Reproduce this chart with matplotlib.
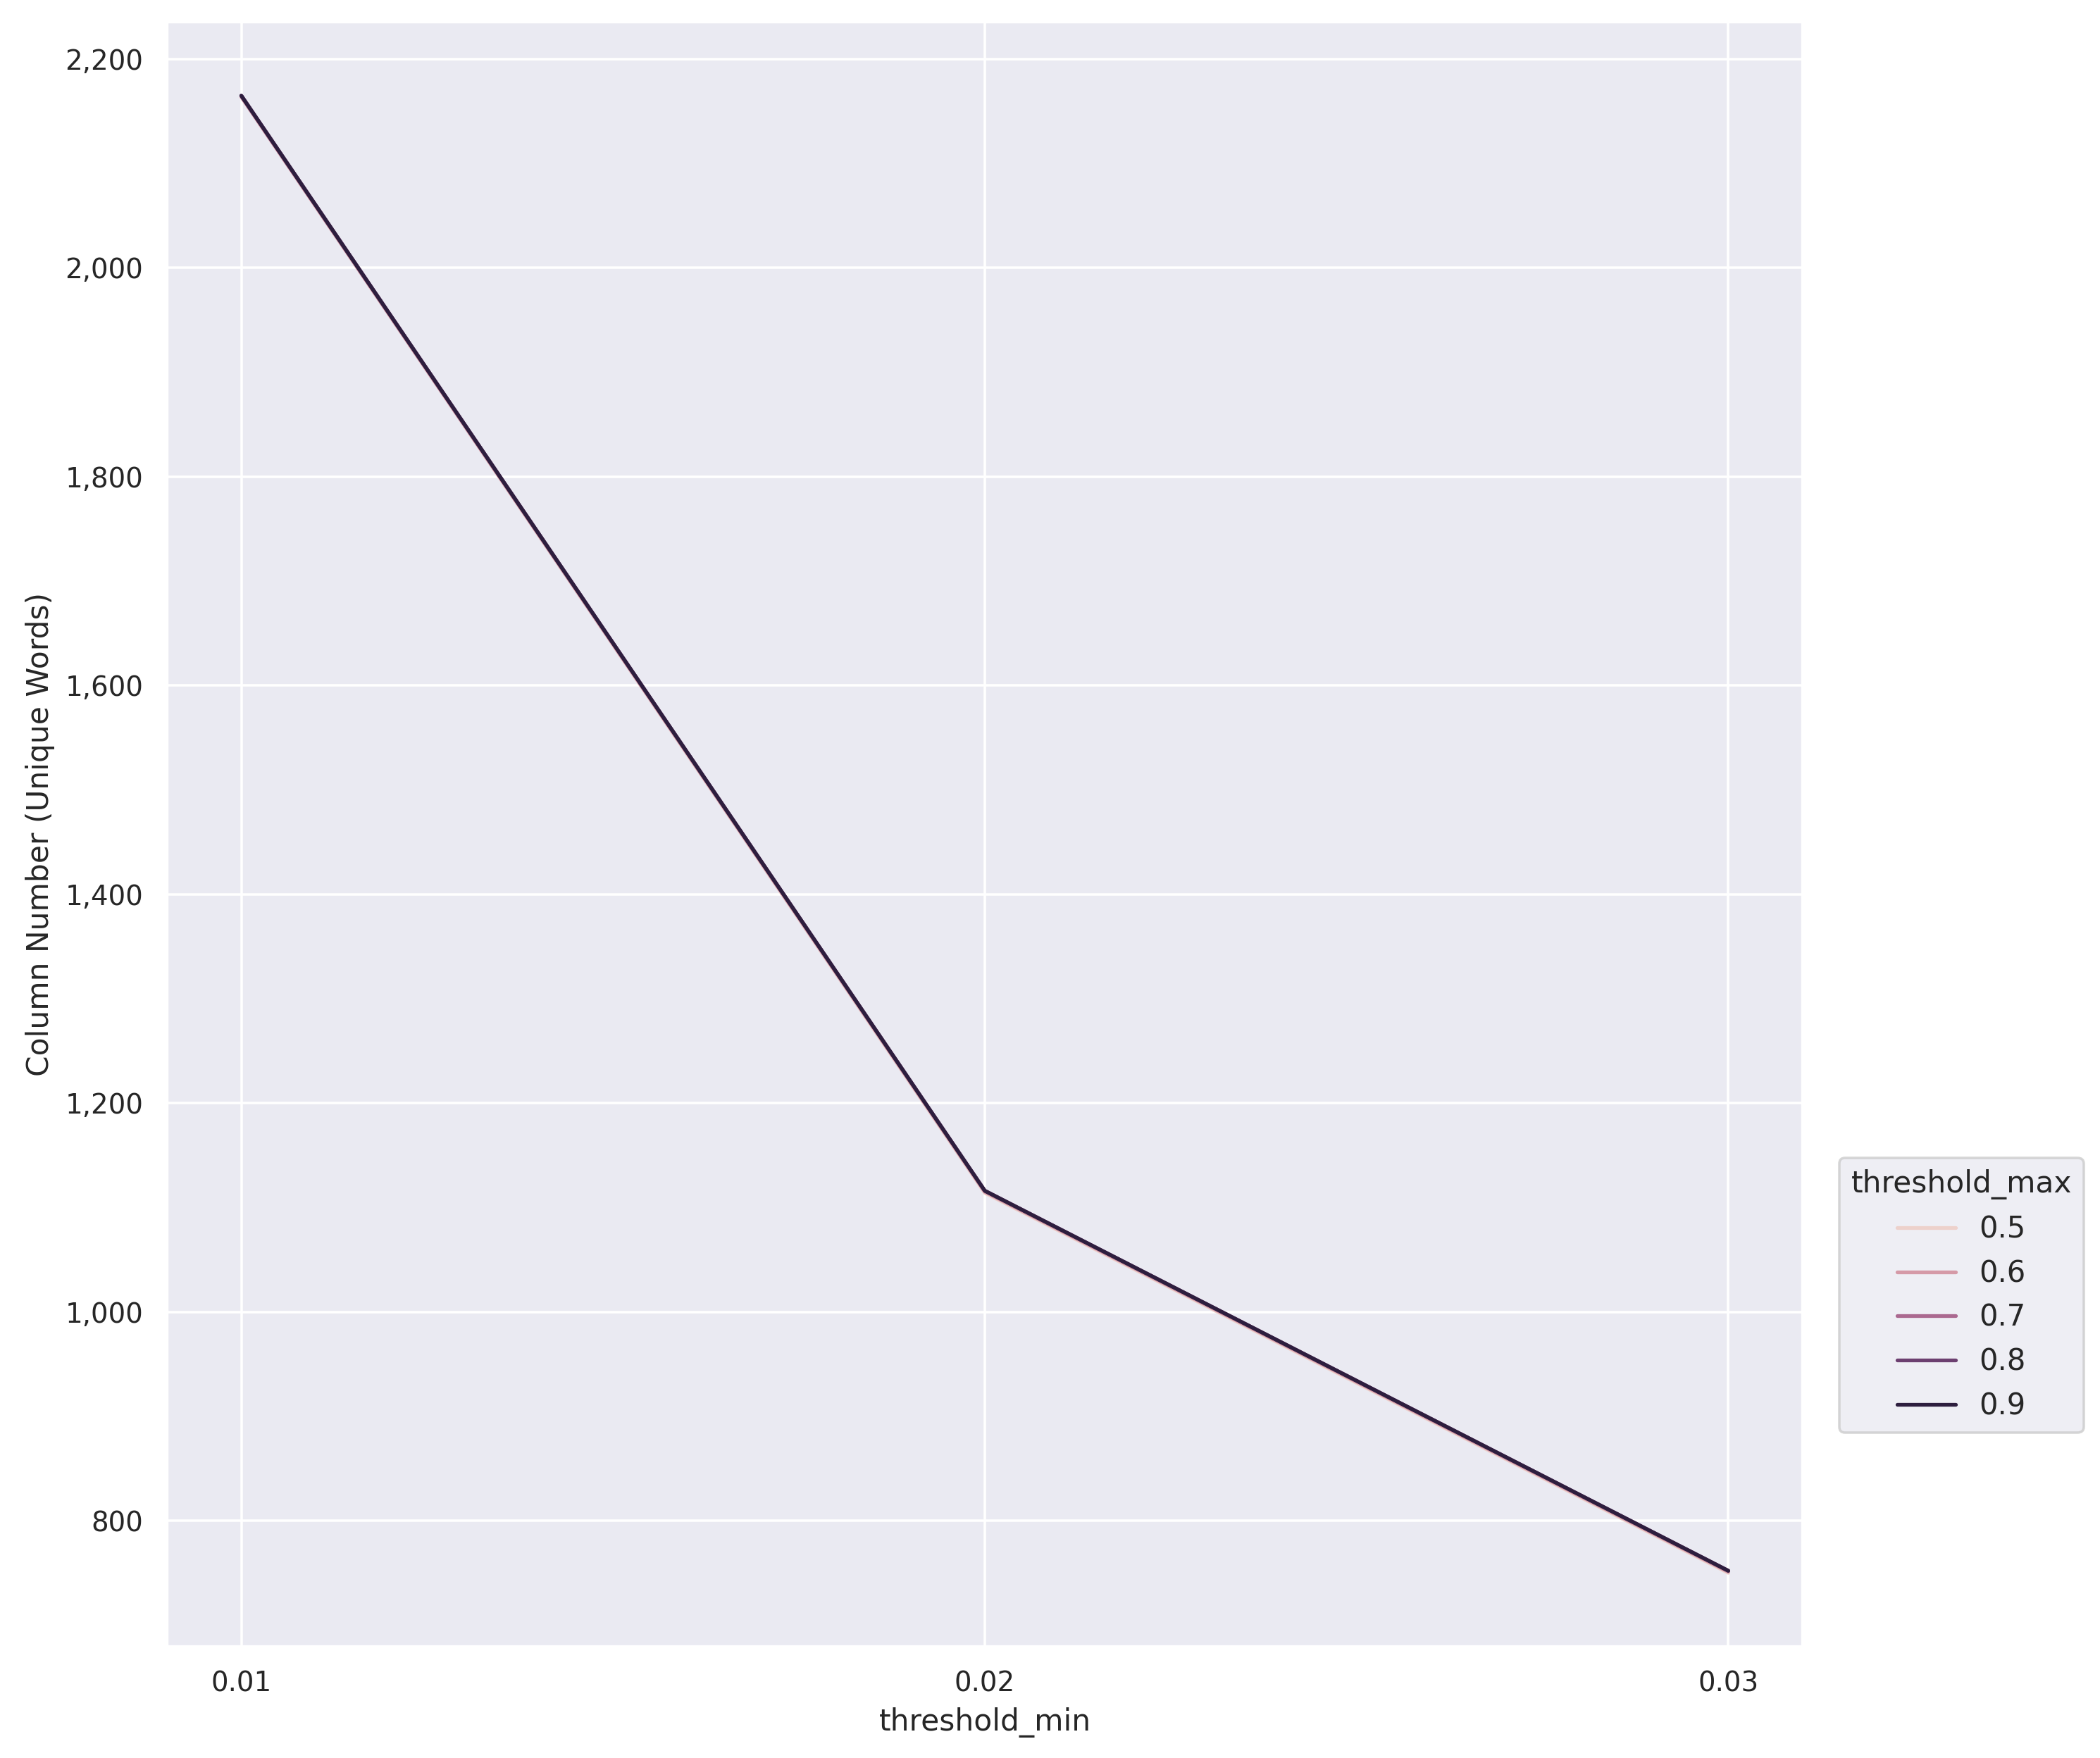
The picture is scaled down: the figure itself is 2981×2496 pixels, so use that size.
import numpy as np
import pandas as pd
import matplotlib
matplotlib.use("Agg")
import matplotlib.pyplot as plt
import seaborn as sns
from matplotlib.ticker import StrMethodFormatter

# 读图估计的数值
threshold_min = [0.01, 0.02, 0.03]
threshold_max = [0.5, 0.6, 0.7, 0.8, 0.9]
cols_05 = [2164, 1114, 750]
cols_06 = [2164, 1115, 751]
cols_07 = [2165, 1116, 752]
cols_08 = [2165, 1116, 752]
cols_09 = [2165, 1116, 752]

rows = []
for tmax, vals in zip(threshold_max, [cols_05, cols_06, cols_07, cols_08, cols_09]):
    for tmin, v in zip(threshold_min, vals):
        rows.append({"threshold_min": tmin, "threshold_max": tmax, "cols": v})
df = pd.DataFrame(rows)

sns.set_theme(style="darkgrid")
plt.rcParams["font.family"] = ["DejaVu Sans"]

DPI = 254
fig = plt.figure(figsize=(2981 / DPI, 2496 / DPI), dpi=DPI)
ax = fig.add_axes([0.0795, 0.0633, 0.7789, 0.9243])
sns.lineplot(data=df, x="threshold_min", y="cols", hue="threshold_max", ax=ax, linewidth=1.5)

ax.set_xticks(threshold_min)
ax.set_xticklabels([f"{t:.2f}" for t in threshold_min])
ax.yaxis.set_major_formatter(StrMethodFormatter("{x:,.0f}"))
ax.set_xlabel("threshold_min")
ax.set_ylabel("Column Number (Unique Words)")

sns.move_legend(ax, "center left", bbox_to_anchor=(1.0224, 0.2163), borderaxespad=0,
                title="threshold_max", fontsize=11.8, title_fontsize=12)

fig.savefig("out.png", dpi=DPI)
